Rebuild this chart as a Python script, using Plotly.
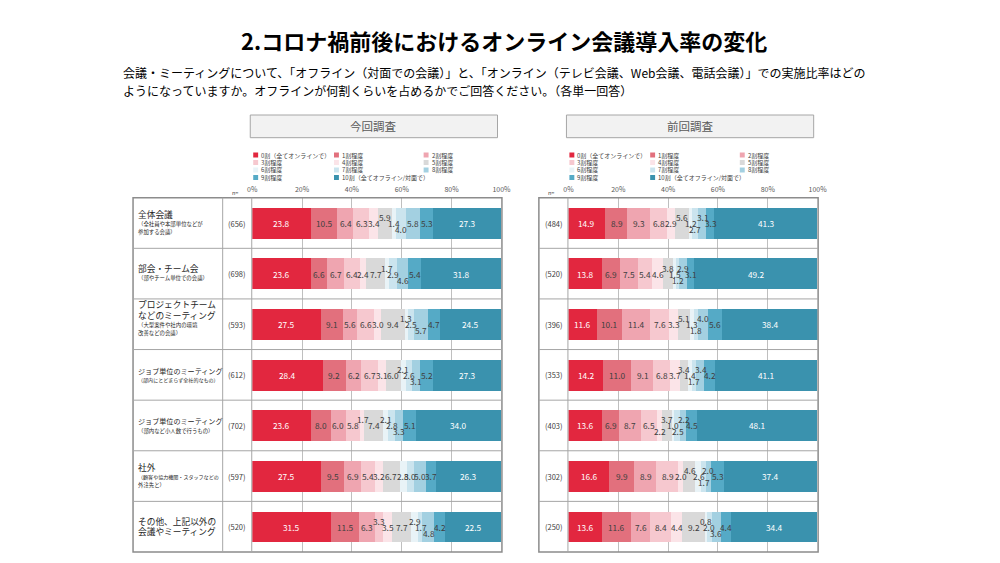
import plotly.graph_objects as go

# ---------------- data ----------------
CATEGORIES = ["0割（全てオンラインで）", "1割程度", "2割程度", "3割程度", "4割程度", "5割程度",
              "6割程度", "7割程度", "8割程度", "9割程度", "10割（全てオフライン/対面で）"]

ROW_MAIN = [["全体会議"], ["部会・チーム会"], ["プロジェクトチーム", "などのミーティング"],
            ["ジョブ単位のミーティング"], ["ジョブ単位のミーティング"], ["社外"],
            ["その他、上記以外の", "会議やミーティング"]]
ROW_SUB = [["（全社員や本部単位などが", "参加する会議）"], ["（部やチーム単位での会議）"],
           ["（大型案件や社内の環境", "改善などの会議）"], ["（部内にとどまらず全社的なもの）"],
           ["（部内など小人数で行うもの）"], ["（顧客や協力機関・スタッフなどの", "外注先と）"], []]

N_NOW = [656, 698, 593, 612, 702, 597, 520]
N_PREV = [484, 520, 396, 353, 403, 302, 250]

NOW_VALUES = [
    [23.8, 10.5, 6.4, 6.3, 3.4, 5.9, 1.4, 4.0, 5.8, 5.3, 27.3],
    [23.6, 6.6, 6.7, 6.4, 2.4, 7.7, 1.7, 2.9, 4.6, 5.4, 31.8],
    [27.5, 9.1, 5.6, 6.6, 3.0, 9.4, 1.3, 2.5, 5.7, 4.7, 24.5],
    [28.4, 9.2, 6.2, 6.7, 3.1, 6.0, 2.1, 2.6, 3.1, 5.2, 27.3],
    [23.6, 8.0, 6.0, 5.8, 1.7, 7.4, 2.1, 2.8, 3.3, 5.1, 34.0],
    [27.5, 9.5, 6.9, 5.4, 3.2, 6.7, 2.8, 3.0, 5.0, 3.7, 26.3],
    [31.5, 11.5, 6.3, 3.3, 3.5, 7.7, 2.9, 1.7, 4.8, 4.2, 22.5],
]
PREV_VALUES = [
    [14.9, 8.9, 9.3, 6.8, 2.9, 5.6, 1.2, 2.7, 3.1, 3.3, 41.3],
    [13.8, 6.9, 7.5, 5.4, 4.6, 3.8, 1.5, 1.2, 2.9, 3.1, 49.2],
    [11.6, 10.1, 11.4, 7.6, 3.3, 5.1, 1.3, 1.8, 4.0, 5.6, 38.4],
    [14.2, 11.0, 9.1, 6.8, 3.7, 3.4, 1.4, 1.7, 3.4, 4.2, 41.1],
    [13.6, 6.9, 8.7, 6.5, 2.2, 3.7, 1.0, 2.5, 2.2, 4.5, 48.1],
    [16.6, 9.9, 8.9, 8.9, 2.0, 4.6, 2.6, 1.7, 2.0, 5.3, 37.4],
    [13.6, 11.6, 7.6, 8.4, 4.4, 9.2, 0.8, 2.0, 3.6, 4.4, 34.4],
]
TICKS = [0, 20, 40, 60, 80, 100]

# ---------------- styles ----------------
COLORS = ["#E2273F", "#E2707D", "#EFA5B0", "#F6C8CF", "#FBE4E8", "#D9D9D9",
          "#E9F3F7", "#CBE4EE", "#A3D0E1", "#55AAC6", "#3A92AE"]
# label stagger (u = up, d = down, 0 = centre), separate from data
SHIFT_NOW = ["00000u0d000", "000000u0d00", "000000u0d00", "000000u0d00",
             "0000u0u0d00", "00000000000", "000u00u0d00"]
SHIFT_PREV = ["00000u0du00", "00000u0du00", "00000u0du00", "00000u0du00",
              "0000du0du00", "00000u0du00", "000000u0d00"]
ROW_LABEL_DY = [0, -1, -6, 0, 0, 0, 0]

FONT = "Noto Sans CJK JP"
W, H = 1000, 563


def px(x):
    return x / W


def py(y):
    return 1 - y / H


def label(x, y, text, size, color="#262626", xanchor="center", **kw):
    return dict(x=px(x), y=py(y), xref="paper", yref="paper", text=text, showarrow=False,
                xanchor=xanchor, yanchor="middle",
                font=dict(family=FONT, size=size, color=color), **kw)


BOX_TOP, BOX_BOT = 197.7, 552.0
NROWS = 7
PITCH = (BOX_BOT - BOX_TOP) / NROWS

fig = go.Figure()

panels = [
    dict(vals=NOW_VALUES, shifts=SHIFT_NOW, n=N_NOW, xa="x", ya="y", x0=251, x1=504,
         box_l=130, div=[221, 250.5], head="今回調査", n_x=235.5, leg_x=[252, 334, 425]),
    dict(vals=PREV_VALUES, shifts=SHIFT_PREV, n=N_PREV, xa="x2", ya="y2", x0=572, x1=825,
         box_l=542, div=[571.5], head="前回調査", n_x=557, leg_x=[573, 655, 746]),
]

shapes = []
annotations = []

for p in panels:
    rows = list(range(NROWS))
    for k, cat in enumerate(CATEGORIES):
        fig.add_trace(go.Bar(
            x=[r[k] for r in p["vals"]], y=rows, orientation="h",
            marker=dict(color=COLORS[k], line=dict(width=0)), width=0.61,
            name=cat, xaxis=p["xa"], yaxis=p["ya"], showlegend=False,
            hovertemplate=cat + ": %{x:.1f}%<extra></extra>"))
    # value labels
    for i, r in enumerate(p["vals"]):
        cum = 0.0
        for k, v in enumerate(r):
            s = p["shifts"][i][k]
            ys = 6 if s == "u" else (-6 if s == "d" else 0)
            annotations.append(dict(
                x=cum + v / 2, y=i, xref=p["xa"], yref=p["ya"], text=f"{v:.1f}",
                showarrow=False, yshift=ys, xanchor="center", yanchor="middle",
                font=dict(family=FONT, size=8.3,
                          color="#FFFFFF" if k in (0, 10) else "#404040")))
            cum += v
    # n labels
    for i, n in enumerate(p["n"]):
        annotations.append(label(p["n_x"], BOX_TOP + PITCH * (i + 0.5), f"({n})", 7.5, "#404040"))
    # outer box, dividers, separators
    shapes.append(dict(type="rect", xref="paper", yref="paper", x0=px(p["box_l"]), x1=px(p["x1"] + 0.5),
                       y0=py(BOX_BOT), y1=py(BOX_TOP), line=dict(color="#8C8C8C", width=1.5),
                       layer="above"))
    for d in p["div"]:
        shapes.append(dict(type="line", xref="paper", yref="paper", x0=px(d), x1=px(d),
                           y0=py(BOX_BOT), y1=py(BOX_TOP), line=dict(color="#A6A6A6", width=1)))
    for k in range(1, NROWS):
        yy = py(BOX_TOP + PITCH * k)
        shapes.append(dict(type="line", xref="paper", yref="paper", x0=px(p["box_l"]),
                           x1=px(p["x1"] + 0.5), y0=yy, y1=yy,
                           line=dict(color="#A6A6A6", width=1)))
    # header box
    shapes.append(dict(type="rect", xref="paper", yref="paper", x0=px(p["x0"] - 2), x1=px(p["x1"] - 4),
                       y0=py(137.7), y1=py(115), fillcolor="#F2F2F2",
                       line=dict(color="#A6A6A6", width=1)))
    annotations.append(label((p["x0"] + p["x1"] - 6) / 2, 126.5, p["head"], 11.5, "#595959"))
    # legend (manual grid 3 columns)
    leg_rows = [155, 162.5, 170, 177.5]
    for k, cat in enumerate(CATEGORIES):
        c = k % 3
        rr = k // 3
        lx = p["leg_x"][c]
        ly = leg_rows[rr]
        shapes.append(dict(type="rect", xref="paper", yref="paper", x0=px(lx), x1=px(lx + 5),
                           y0=py(ly + 2.5), y1=py(ly - 2.5), fillcolor=COLORS[k],
                           line=dict(width=0)))
        annotations.append(label(lx + 6, ly, cat, 6, "#404040", xanchor="left"))
    # n=
    annotations.append(label(p["x0"] - 18, 193, "n=", 5.5, "#404040"))

# row labels (left panel only)
for i in range(NROWS):
    top = BOX_TOP + PITCH * i
    main = ROW_MAIN[i]
    sub = ROW_SUB[i]
    total_h = len(main) * 10.5 + len(sub) * 8
    y = top + (PITCH - total_h) / 2 + 5 + ROW_LABEL_DY[i]
    for t in main:
        size = min(8.7, 85.0 / len(t))
        annotations.append(label(133, y, t, size, "#262626", xanchor="left"))
        y += 10.5
    y -= 1
    for t in sub:
        size = min(5.4, 81.0 / len(t))
        annotations.append(label(133, y, t, size, "#262626", xanchor="left"))
        y += 8

# title and subtitle
annotations.append(label(507, 40, "<b>2.コロナ禍前後におけるオンライン会議導入率の変化</b>", 22, "#000000"))
annotations.append(label(118, 73,
                         "会議・ミーティングについて、「オフライン（対面での会議）」と、「オンライン（テレビ会議、Web会議、電話会議）」での実施比率はどの",
                         12, "#000000", xanchor="left"))
annotations.append(label(118, 90,
                         "ようになっていますか。オフラインが何割くらいを占めるかでご回答ください。（各単一回答）",
                         12, "#000000", xanchor="left"))

ydom = [py(BOX_BOT), py(BOX_TOP)]
axis_common = dict(range=[0, 100], tickvals=TICKS, ticktext=[f"{t}%" for t in TICKS], side="top",
                   showgrid=True, gridcolor="#BFBFBF", gridwidth=1, zeroline=False, showline=False,
                   ticks="", ticklabelstandoff=3,
                   tickfont=dict(family=FONT, size=7, color="#595959"), fixedrange=True)
fig.update_layout(
    width=W, height=H, margin=dict(l=0, r=0, t=0, b=0),
    paper_bgcolor="white", plot_bgcolor="white", barmode="stack", bargap=0,
    xaxis=dict(domain=[px(251), px(504)], anchor="y", **axis_common),
    xaxis2=dict(domain=[px(572), px(825)], anchor="y2", **axis_common),
    yaxis=dict(domain=ydom, range=[6.5, -0.5], showticklabels=False, showgrid=False,
               zeroline=False, anchor="x", fixedrange=True),
    yaxis2=dict(domain=ydom, range=[6.5, -0.5], showticklabels=False, showgrid=False,
                zeroline=False, anchor="x2", fixedrange=True),
    shapes=shapes, annotations=annotations, font=dict(family=FONT), showlegend=False,
)

fig.write_html("out.html")
